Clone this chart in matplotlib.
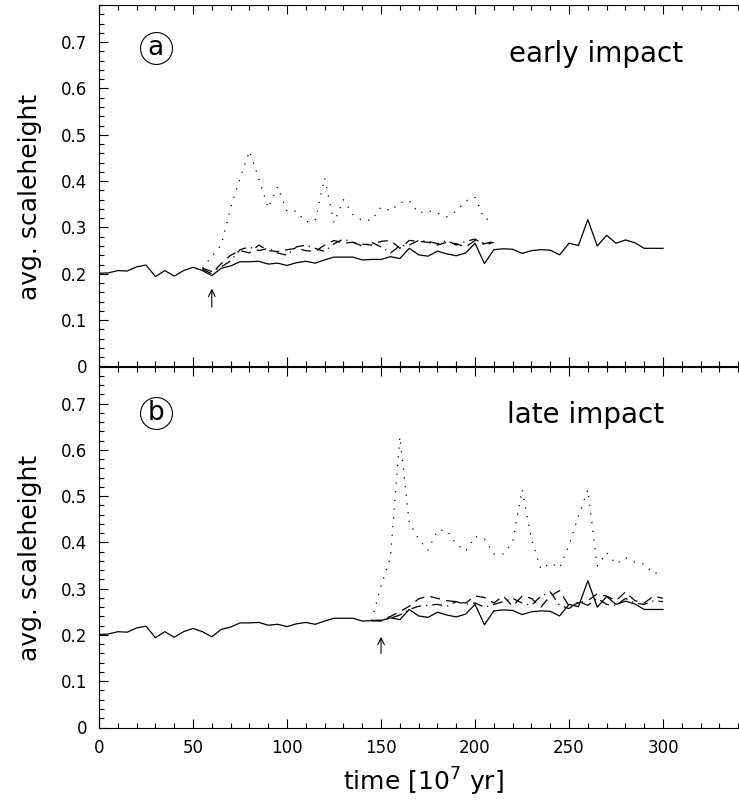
import numpy as np
import matplotlib
matplotlib.use('Agg')
import matplotlib.pyplot as plt
from matplotlib.ticker import MultipleLocator, FuncFormatter

## time grid of the reference run (10^7 yr)
time_ref = list(range(0, 305, 5))
## solid line: unperturbed disk, same in both panels
height_ref = [0.201, 0.202, 0.207, 0.206, 0.215, 0.219, 0.194, 0.207, 0.195, 0.207,
              0.214, 0.207, 0.196, 0.212, 0.217, 0.226, 0.226, 0.227, 0.221, 0.223,
              0.218, 0.224, 0.227, 0.223, 0.230, 0.236, 0.236, 0.236, 0.230, 0.231,
              0.231, 0.237, 0.233, 0.255, 0.241, 0.238, 0.249, 0.243, 0.239, 0.245,
              0.266, 0.222, 0.252, 0.254, 0.253, 0.244, 0.250, 0.252, 0.251, 0.241,
              0.266, 0.261, 0.317, 0.260, 0.283, 0.266, 0.273, 0.267, 0.255, 0.255,
              0.255]

## panel a: early impact (t = 60)
time_early = list(range(55, 215, 5))
dotted_early = [0.212, 0.238, 0.262, 0.342, 0.405, 0.465, 0.405, 0.342, 0.388, 0.335,
                0.335, 0.312, 0.315, 0.407, 0.310, 0.360, 0.328, 0.315, 0.316, 0.344,
                0.336, 0.353, 0.358, 0.331, 0.336, 0.331, 0.323, 0.335, 0.357, 0.365,
                0.318, 0.317]
dashed_early = [0.210, 0.200, 0.222, 0.240, 0.250, 0.245, 0.262, 0.250, 0.248, 0.252,
                0.255, 0.250, 0.248, 0.262, 0.272, 0.266, 0.268, 0.264, 0.262, 0.270,
                0.272, 0.255, 0.272, 0.270, 0.268, 0.262, 0.268, 0.265, 0.258, 0.272,
                0.265, 0.270]
dashdot_early = [0.212, 0.205, 0.215, 0.228, 0.252, 0.258, 0.250, 0.255, 0.245, 0.240,
                 0.258, 0.262, 0.255, 0.248, 0.265, 0.275, 0.268, 0.260, 0.268, 0.258,
                 0.245, 0.260, 0.262, 0.272, 0.270, 0.265, 0.272, 0.262, 0.270, 0.275,
                 0.262, 0.268]

## panel b: late impact (t = 150)
time_late = list(range(145, 305, 5))
dotted_late = [0.231, 0.306, 0.367, 0.628, 0.443, 0.407, 0.383, 0.426, 0.426, 0.396,
               0.381, 0.413, 0.407, 0.375, 0.375, 0.400, 0.514, 0.407, 0.342, 0.355,
               0.345, 0.394, 0.457, 0.514, 0.349, 0.378, 0.353, 0.367, 0.357, 0.353,
               0.332, 0.338]
dashed_late = [0.231, 0.232, 0.240, 0.250, 0.262, 0.278, 0.284, 0.279, 0.274, 0.272,
               0.269, 0.284, 0.281, 0.269, 0.284, 0.262, 0.284, 0.279, 0.260, 0.284,
               0.296, 0.262, 0.269, 0.274, 0.289, 0.284, 0.274, 0.293, 0.274, 0.269,
               0.284, 0.279]
dashdot_late = [0.231, 0.230, 0.236, 0.243, 0.255, 0.262, 0.264, 0.266, 0.262, 0.272,
                0.266, 0.269, 0.260, 0.266, 0.272, 0.279, 0.269, 0.264, 0.284, 0.293,
                0.264, 0.257, 0.272, 0.264, 0.279, 0.266, 0.264, 0.279, 0.269, 0.266,
                0.274, 0.272]

panels = [
    dict(letter='a', label='early impact', impact=60, arrow=(0.128, 0.168), ly=0.882,
         t=time_early, dotted=dotted_early, dashed=dashed_early, dashdot=dashdot_early),
    dict(letter='b', label='late impact', impact=150, arrow=(0.160, 0.196), ly=0.872,
         t=time_late, dotted=dotted_late, dashed=dashed_late, dashdot=dashdot_late),
]

fig = plt.figure(figsize=(7.39, 8.09), dpi=100)
left, right = 99/739, 0.999
mid, bottom, top = 1 - 366.5/809, 1 - 727.5/809, 1 - 5/809
ax_a = fig.add_axes([left, mid, right - left, top - mid])
ax_b = fig.add_axes([left, bottom, right - left, mid - bottom])

lw = 0.9
yfmt = FuncFormatter(lambda v, pos: '0' if abs(v) < 1e-9 else '%.1f' % v)

for ax, p in zip([ax_a, ax_b], panels):
    ax.plot(time_ref, height_ref, 'k-', lw=lw)
    ax.plot(p['t'], p['dotted'], color='k', lw=lw, linestyle=(0, (1, 6)))
    ax.plot(p['t'], p['dashed'], color='k', lw=lw, linestyle=(0, (8, 5)))
    ax.plot(p['t'], p['dashdot'], color='k', lw=lw, linestyle=(0, (8, 4, 1, 4)))

    ax.set_xlim(0, 340)
    ax.set_ylim(0, 0.78)
    ax.xaxis.set_major_locator(MultipleLocator(50))
    ax.xaxis.set_minor_locator(MultipleLocator(10))
    ax.yaxis.set_major_locator(MultipleLocator(0.1))
    ax.yaxis.set_minor_locator(MultipleLocator(0.02))
    ax.yaxis.set_major_formatter(yfmt)
    ax.tick_params(which='both', direction='in', top=True, right=False, width=0.8,
                   labelsize=12, pad=8.5)
    ax.tick_params(which='major', length=6.5)
    ax.tick_params(which='minor', length=3.6)
    ax.spines['right'].set_visible(False)
    for s in ['left', 'top', 'bottom']:
        ax.spines[s].set_linewidth(0.8)

    ## impact arrow
    ax.annotate('', xy=(p['impact'], p['arrow'][1]), xytext=(p['impact'], p['arrow'][0]),
                arrowprops=dict(arrowstyle='->', lw=0.8, color='k', mutation_scale=12,
                                shrinkA=0, shrinkB=0))

    ## circled panel letter and caption
    ax.plot([0.089], [p['ly']], 'o', ms=23, mfc='none', mec='k', mew=0.8,
            transform=ax.transAxes, clip_on=False)
    ax.text(0.089, p['ly'], p['letter'], transform=ax.transAxes, ha='center',
            va='center', fontsize=19)
    ax.text(0.914 if p['letter'] == 'a' else 0.884, 0.843, p['label'],
            transform=ax.transAxes, ha='right', va='baseline', fontsize=20)
    ax.text(-0.108, 0.47, 'avg. scaleheight', transform=ax.transAxes, rotation=90,
            ha='center', va='center', fontsize=18)

ax_a.tick_params(labelbottom=False)
fig.text(423/739, 1 - 782/809, r'time [10$^7$ yr]', ha='center', va='center', fontsize=18)

fig.savefig('out.png', dpi=100)
